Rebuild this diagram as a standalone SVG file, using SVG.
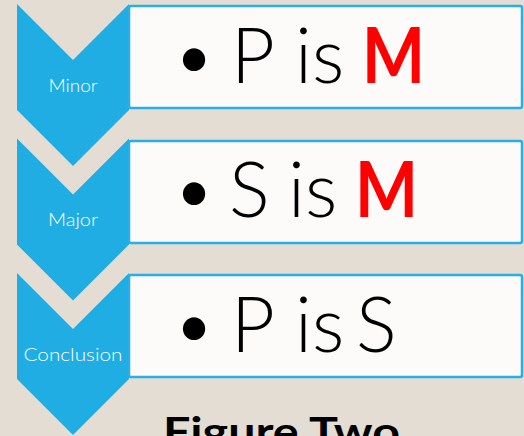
<svg xmlns="http://www.w3.org/2000/svg" width="524" height="436" viewBox="0 0 524 436">
<style>
.chev{fill:#1FADE3}
.box{fill:#FCFBFA;stroke:#29AFE6;stroke-width:2.5}
.lbl{fill:#FFFFFF;font-family:Lato,"Open Sans",sans-serif;font-weight:300;font-size:17px;text-anchor:middle}
.big{fill:#000000;font-family:Lato,"Open Sans",sans-serif;font-weight:300;font-size:76px}
.m{fill:#FF0000;font-family:Lato,"Open Sans",sans-serif;font-weight:700;font-size:76px}
.title{fill:#000000;font-family:Lato,"Open Sans",sans-serif;font-weight:700;font-size:40px}
</style>
<rect width="524" height="436" fill="#E3DDD3"/>
<g id="connectors"></g>
<g id="node-minor">
<path class="chev" d="M17,4 L73,60 L129,4 L129,110 L73,166 L17,110 Z"/>
<text class="lbl" x="73" y="92" textLength="49" lengthAdjust="spacingAndGlyphs">Minor</text>
</g>
<g id="box-minor">
<rect class="box" x="129" y="6" width="393" height="102" rx="2"/>
<text class="big" y="83"><tspan x="172">•</tspan><tspan x="231">P</tspan><tspan x="295">is</tspan></text>
<text class="m" x="362" y="83" textLength="63" lengthAdjust="spacingAndGlyphs">M</text>
</g>
<g id="node-major">
<path class="chev" d="M17,138.5 L73,194.5 L129,138.5 L129,244.5 L73,300.5 L17,244.5 Z"/>
<text class="lbl" x="73" y="226" textLength="50" lengthAdjust="spacingAndGlyphs">Major</text>
</g>
<g id="box-major">
<rect class="box" x="129" y="141" width="393" height="102" rx="2"/>
<text class="big" y="217"><tspan x="172">•</tspan><tspan x="229">S</tspan><tspan x="288">is</tspan></text>
<text class="m" x="355" y="217" textLength="63" lengthAdjust="spacingAndGlyphs">M</text>
</g>
<g id="node-conclusion">
<path class="chev" d="M17,273 L73,329 L129,273 L129,379 L73,435 L17,379 Z"/>
<text class="lbl" x="73" y="361" textLength="99" lengthAdjust="spacingAndGlyphs">Conclusion</text>
</g>
<g id="box-conclusion">
<rect class="box" x="129" y="275" width="393" height="102" rx="2"/>
<text class="big" y="352"><tspan x="172">•</tspan><tspan x="231">P</tspan><tspan x="295">is</tspan><tspan x="356">S</tspan></text>
</g>
<text class="title" x="163" y="446" textLength="237" lengthAdjust="spacingAndGlyphs">Figure Two</text>
</svg>
